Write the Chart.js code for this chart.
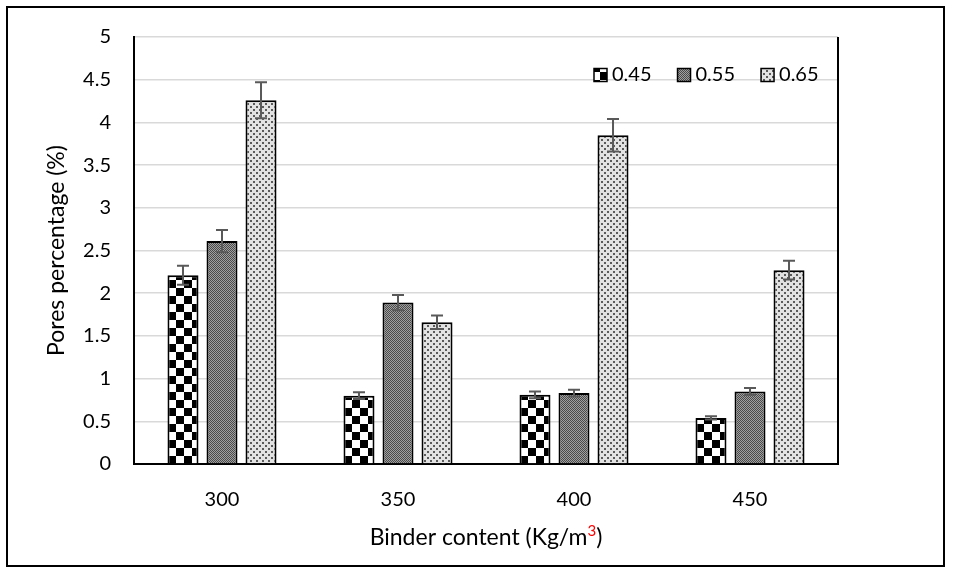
<!DOCTYPE html>
<html>
<head>
<meta charset="utf-8">
<script src="https://cdn.jsdelivr.net/npm/chart.js@4.4.1/dist/chart.umd.min.js"></script>
<style>
  html, body { margin: 0; padding: 0; background: #fff; }
  #wrap { position: relative; width: 955px; height: 579px; }
  #frame { position: absolute; left: 6px; top: 6px; width: 939px; height: 561px; border: 2px solid #000; box-sizing: border-box; pointer-events: none; }
  canvas { position: absolute; left: 0; top: 0; }
</style>
</head>
<body>
<div id="wrap">
  <canvas id="chart" width="955" height="579"></canvas>
  <div id="frame"></div>
</div>
<script>
// data
const binder = ["300", "350", "400", "450"];
const ratios = ["0.45", "0.55", "0.65"];
const pores045 = [2.21, 0.80, 0.81, 0.54];
const pores055 = [2.61, 1.89, 0.83, 0.85];
const pores065 = [4.26, 1.66, 3.85, 2.27];
const err045 = [0.11, 0.04, 0.04, 0.02];
const err055 = [0.13, 0.09, 0.04, 0.04];
const err065 = [0.21, 0.08, 0.19, 0.11];
const yTicks = [0, 0.5, 1, 1.5, 2, 2.5, 3, 3.5, 4, 4.5, 5];

const FONT = "Lato";

// fill patterns like the excel ones
function makePattern(kind) {
    const c = document.createElement("canvas");
    const g = c.getContext("2d");
    if (kind === "checker") {
        c.width = 16; c.height = 16;
        g.fillStyle = "#fff"; g.fillRect(0, 0, 16, 16);
        g.fillStyle = "#000";
        g.fillRect(0, 0, 8, 8);
        g.fillRect(8, 8, 8, 8);
    } else if (kind === "dither") {
        c.width = 2; c.height = 2;
        g.fillStyle = "#a0a0a0"; g.fillRect(0, 0, 2, 2);
        g.fillStyle = "#4a4a4a";
        g.fillRect(0, 0, 1, 1);
        g.fillRect(1, 1, 1, 1);
    } else {
        c.width = 6; c.height = 6;
        g.fillStyle = "#e2e2e2"; g.fillRect(0, 0, 6, 6);
        g.fillStyle = "#5a5a5a";
        g.fillRect(1, 1, 2, 2);
        g.fillRect(4, 4, 2, 2);
    }
    return g.createPattern(c, "repeat");
}

const patterns = [makePattern("checker"), makePattern("dither"), makePattern("dots")];
const values = [pores045, pores055, pores065];
const errors = [err045, err055, err065];

// error bars on top of the bars
const errorBars = {
    id: "errorBars",
    afterDatasetsDraw(chart) {
        const ctx = chart.ctx;
        const y = chart.scales.y;
        ctx.save();
        ctx.strokeStyle = "#595959";
        ctx.lineWidth = 2;
        chart.data.datasets.forEach((ds, i) => {
            const meta = chart.getDatasetMeta(i);
            meta.data.forEach((bar, j) => {
                const v = ds.data[j], e = errors[i][j];
                const top = y.getPixelForValue(v + e);
                const bot = y.getPixelForValue(v - e);
                ctx.beginPath();
                ctx.moveTo(bar.x, top); ctx.lineTo(bar.x, bot);
                ctx.moveTo(bar.x - 6, top); ctx.lineTo(bar.x + 6, top);
                ctx.moveTo(bar.x - 6, bot); ctx.lineTo(bar.x + 6, bot);
                ctx.stroke();
            });
        });
        ctx.restore();
    }
};

// legend in the top right corner + right border + x title with red superscript
const extras = {
    id: "extras",
    afterDraw(chart) {
        const ctx = chart.ctx;
        const a = chart.chartArea;
        ctx.save();
        // right edge of plot
        ctx.strokeStyle = "#000";
        ctx.lineWidth = 2;
        ctx.beginPath();
        ctx.moveTo(a.right, a.top);
        ctx.lineTo(a.right, a.bottom + 1);
        ctx.stroke();

        // legend
        ctx.font = "20px " + FONT;
        ctx.textBaseline = "middle";
        ctx.textAlign = "left";
        let x = a.right - 244;
        const cy = 75;
        ratios.forEach((r, i) => {
            ctx.fillStyle = patterns[i];
            ctx.fillRect(x, cy - 6.5, 13, 13);
            ctx.lineWidth = 1.5;
            ctx.strokeStyle = "#000";
            ctx.strokeRect(x, cy - 6.5, 13, 13);
            ctx.fillStyle = "#000";
            ctx.fillText(r, x + 18, cy);
            x += 18 + ctx.measureText(r).width + 26;
        });

        // x axis title
        const main = "Binder content (Kg/m";
        ctx.font = "23px " + FONT;
        const w1 = ctx.measureText(main).width;
        ctx.font = "15px " + FONT;
        const w2 = ctx.measureText("3").width;
        ctx.font = "23px " + FONT;
        const w3 = ctx.measureText(")").width;
        let tx = (a.left + a.right) / 2 - (w1 + w2 + w3) / 2;
        const base = 545;
        ctx.textBaseline = "alphabetic";
        ctx.fillStyle = "#000";
        ctx.fillText(main, tx, base);
        tx += w1;
        ctx.font = "15px " + FONT;
        ctx.fillStyle = "#ff0000";
        ctx.fillText("3", tx, base - 9);
        tx += w2;
        ctx.font = "23px " + FONT;
        ctx.fillStyle = "#000";
        ctx.fillText(")", tx, base);
        ctx.restore();
    }
};

const ctx = document.getElementById("chart").getContext("2d");
new Chart(ctx, {
    type: "bar",
    data: {
        labels: binder,
        datasets: ratios.map((r, i) => ({
            label: r,
            data: values[i],
            backgroundColor: patterns[i],
            borderColor: "#000",
            borderWidth: 2,
            categoryPercentage: 0.665,
            barPercentage: 0.795
        }))
    },
    options: {
        responsive: false,
        animation: false,
        devicePixelRatio: 1,
        layout: { padding: { left: 0, top: 37, right: 117, bottom: 0 } },
        plugins: {
            legend: { display: false },
            tooltip: { enabled: false }
        },
        scales: {
            x: {
                grid: { display: false },
                border: { color: "#000", width: 2 },
                ticks: { color: "#000", font: { family: FONT, size: 20 }, padding: 16 },
                afterFit(scale) { scale.height = 115; }
            },
            y: {
                min: 0,
                max: 5,
                afterBuildTicks(scale) { scale.ticks = yTicks.map(v => ({ value: v })); },
                grid: { color: "#d9d9d9", lineWidth: 1.5, drawTicks: false },
                border: { color: "#000", width: 2 },
                ticks: {
                    color: "#000",
                    font: { family: FONT, size: 20 },
                    padding: 23,
                    callback: v => String(v)
                },
                title: {
                    display: true,
                    text: "Pores percentage (%)",
                    color: "#000",
                    font: { family: FONT, size: 23 },
                    padding: { top: 43, bottom: 0 }
                },
                afterFit(scale) { scale.width = 134; }
            }
        }
    },
    plugins: [errorBars, extras]
});
</script>
</body>
</html>
